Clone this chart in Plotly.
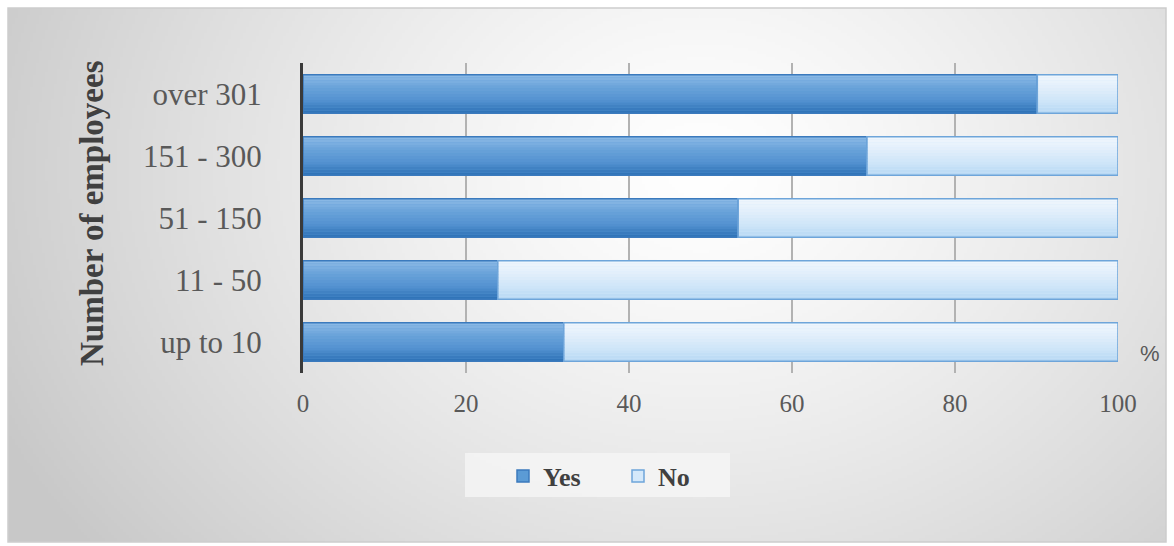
import base64
import struct
import zlib

import plotly.graph_objects as go

# ---------------- data ----------------
categories = ["up to 10", "11 - 50", "51 - 150", "151 - 300", "over 301"]
yes_pct = [32.0, 23.9, 53.4, 69.2, 90.1]
no_pct = [68.0, 76.1, 46.6, 30.8, 9.9]
x_ticks = [0, 20, 40, 60, 80, 100]
series_names = ["Yes", "No"]

# ---------------- geometry (pixels) ----------------
W, H = 1174, 546
PL, PR, PT, PB = 303, 1118, 63, 373  # plot area in pixels
FRAME = (8, 8, 1166, 542)
LEG_BOX = (465, 453, 730, 497)


def px_x(p):
    return (p - PL) / (PR - PL)


def px_y(p):
    return (PB - p) / (PB - PT)


# ---------------- background gradient image ----------------
def make_png(w, h, pixfn):
    raw = bytearray()
    for j in range(h):
        raw.append(0)
        for i in range(w):
            raw.extend(pixfn(i, j))

    def chunk(tag, data):
        c = struct.pack(">I", len(data)) + tag + data
        return c + struct.pack(">I", zlib.crc32(tag + data) & 0xFFFFFFFF)

    png = b"\x89PNG\r\n\x1a\n"
    png += chunk(b"IHDR", struct.pack(">IIBBBBB", w, h, 8, 2, 0, 0, 0))
    png += chunk(b"IDAT", zlib.compress(bytes(raw), 9))
    png += chunk(b"IEND", b"")
    return "data:image/png;base64," + base64.b64encode(png).decode()


SC = 3
fw = (FRAME[2] - FRAME[0]) // SC
fh = (FRAME[3] - FRAME[1]) // SC
CX, CY, RX, RY = 700, 170, 700, 560


def bg_pix(i, j):
    x = FRAME[0] + (i + 0.5) * SC
    y = FRAME[1] + (j + 0.5) * SC
    t = (((x - CX) / RX) ** 2 + ((y - CY) / RY) ** 2) ** 0.5
    v = 255 - 48 * (t ** 1.3)
    v = int(max(200, min(255, v)))
    return (v, v, v)


bg_src = make_png(fw, fh, bg_pix)


# ---------------- colour helpers ----------------
def hex2rgb(h):
    h = h.lstrip("#")
    return [int(h[k:k + 2], 16) for k in (0, 2, 4)]


def lerp3(stops, t):
    n = len(stops) - 1
    seg = min(int(t * n), n - 1)
    lt = t * n - seg
    a, b = hex2rgb(stops[seg]), hex2rgb(stops[seg + 1])
    c = [round(a[k] + (b[k] - a[k]) * lt) for k in range(3)]
    return "rgb(%d,%d,%d)" % tuple(c)


BAR_W = 0.62
N_STRIPES = 14
yes_stops = ["#2c70b5", "#5391d0", "#6aa3da", "#8dbbe6"]
no_stops = ["#b6d8f4", "#cfe5f8", "#e2effb", "#f1f7fd"]
yes_mid, yes_line = "#5b9bd5", "#3b7abd"
no_mid, no_line = "#d4e8fa", "#6ea5da"

fig = go.Figure()


def add_series(name, vals, base, stops, mid, line):
    fig.add_trace(go.Bar(
        y=categories, x=vals, base=base, orientation="h", name=name,
        width=BAR_W, marker=dict(color=mid, line=dict(color=line, width=1.5)),
        showlegend=True, hoverinfo="x+y",
    ))
    sw = BAR_W / N_STRIPES
    for k in range(N_STRIPES):
        fig.add_trace(go.Bar(
            y=categories, x=vals, base=base, orientation="h",
            width=sw, offset=-BAR_W / 2 + k * sw,
            marker=dict(color=lerp3(stops, (k + 0.5) / N_STRIPES), line=dict(width=0)),
            showlegend=False, hoverinfo="skip",
        ))
    fig.add_trace(go.Bar(
        y=categories, x=vals, base=base, orientation="h",
        width=BAR_W, marker=dict(color="rgba(0,0,0,0)", line=dict(color=line, width=1.5)),
        showlegend=False, hoverinfo="skip",
    ))


add_series(series_names[0], yes_pct, [0] * len(yes_pct), yes_stops, yes_mid, yes_line)
add_series(series_names[1], no_pct, yes_pct, no_stops, no_mid, no_line)

serif = "Liberation Serif, Times New Roman, serif"

fig.update_layout(
    width=W, height=H,
    margin=dict(l=PL, r=W - PR, t=PT, b=H - PB, autoexpand=False),
    barmode="overlay",
    paper_bgcolor="white",
    plot_bgcolor="rgba(0,0,0,0)",
    font=dict(family=serif, color="#595959"),
    xaxis=dict(
        range=[0, 100], tickvals=x_ticks, ticktext=[str(v) for v in x_ticks],
        showgrid=True, gridcolor="#b2b2b2", gridwidth=1.5, zeroline=False,
        showline=False, ticks="", tickfont=dict(family=serif, size=25, color="#595959"),
        ticklabelstandoff=13, fixedrange=True,
    ),
    yaxis=dict(
        categoryorder="array", categoryarray=categories,
        showgrid=False, zeroline=False, showline=True, linecolor="#3a3a3a", linewidth=3,
        ticks="", tickfont=dict(family=serif, size=31, color="#595959"),
        ticklabelstandoff=32, fixedrange=True,
    ),
    legend=dict(
        orientation="h", xanchor="left", yanchor="middle",
        x=px_x(503), y=px_y(476),
        bgcolor="rgba(0,0,0,0)", borderwidth=0,
        font=dict(family=serif, size=26, color="#404040", weight="bold"),
        entrywidth=70, traceorder="normal",
    ),
    images=[dict(
        source=bg_src, xref="paper", yref="paper",
        x=px_x(FRAME[0]), y=px_y(FRAME[1]),
        sizex=px_x(FRAME[2]) - px_x(FRAME[0]), sizey=px_y(FRAME[1]) - px_y(FRAME[3]),
        xanchor="left", yanchor="top", sizing="stretch", layer="below",
    )],
    shapes=[
        dict(
            type="rect", xref="paper", yref="paper",
            x0=px_x(FRAME[0]), x1=px_x(FRAME[2]), y0=px_y(FRAME[3]), y1=px_y(FRAME[1]),
            line=dict(color="#cdcdcd", width=1.5), fillcolor="rgba(0,0,0,0)", layer="below",
        ),
        dict(
            type="rect", xref="paper", yref="paper",
            x0=px_x(LEG_BOX[0]), x1=px_x(LEG_BOX[2]), y0=px_y(LEG_BOX[3]), y1=px_y(LEG_BOX[1]),
            line=dict(width=0), fillcolor="rgba(245,245,245,0.85)", layer="below",
        ),
    ],
    annotations=[
        dict(
            text="<b>Number of employees</b>", textangle=-90, xref="paper", yref="paper",
            x=px_x(92), y=px_y(213), showarrow=False, xanchor="center", yanchor="middle",
            font=dict(family=serif, size=33, color="#404040"),
        ),
        dict(
            text="%", xref="paper", yref="paper", x=px_x(1150), y=px_y(353),
            showarrow=False, xanchor="center", yanchor="middle",
            font=dict(family="Liberation Sans, Arial, sans-serif", size=22, color="#595959"),
        ),
    ],
    hovermode="closest",
)

fig.write_html("out.html")
